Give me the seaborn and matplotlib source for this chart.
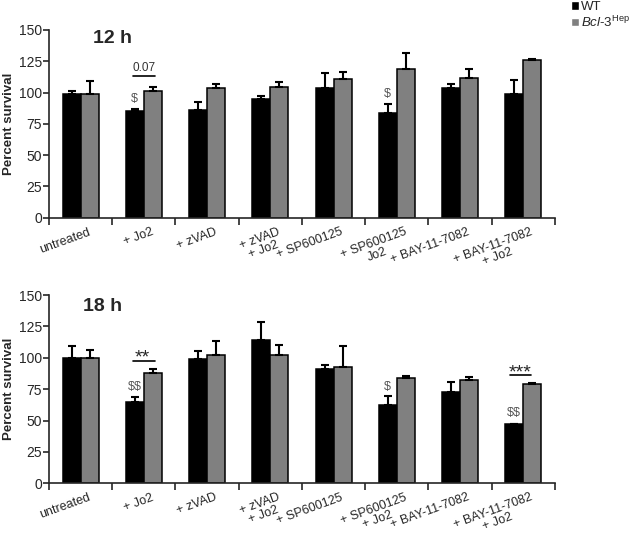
import numpy as np
import pandas as pd
import matplotlib
matplotlib.use("Agg")
import matplotlib.pyplot as plt
import matplotlib.transforms as mtransforms
import seaborn as sns
from matplotlib.patches import Patch

# Percent survival (mean and upper SEM)
labels_12h = ["untreated", "+ Jo2", "+ zVAD", "+ zVAD\n+ Jo2", "+ SP600125",
              "+ SP600125\nJo2", "+ BAY-11-7082", "+ BAY-11-7082\n+ Jo2"]
labels_18h = ["untreated", "+ Jo2", "+ zVAD", "+ zVAD\n+ Jo2", "+ SP600125",
              "+ SP600125\n+ Jo2", "+ BAY-11-7082", "+ BAY-11-7082\n+ Jo2"]
genotypes = ["WT", "Bcl-3"]

wt_12h = [98.9, 85.6, 86.1, 95.2, 104.0, 83.5, 103.5, 98.7]
wt_12h_err = [2.4, 1.4, 6.2, 1.8, 12.0, 7.2, 3.2, 11.3]
ko_12h = [99.0, 101.6, 103.5, 104.3, 110.7, 119.0, 112.0, 126.0]
ko_12h_err = [10.0, 3.2, 3.5, 4.0, 5.8, 12.2, 7.0, 0.6]

wt_18h = [100.0, 65.0, 98.7, 114.0, 91.0, 62.3, 73.0, 47.2]
wt_18h_err = [9.5, 4.0, 6.6, 14.6, 3.0, 6.9, 7.6, 0.4]
ko_18h = [100.0, 87.5, 101.9, 102.4, 92.6, 83.8, 82.5, 79.3]
ko_18h_err = [6.0, 3.5, 11.6, 7.9, 16.7, 1.6, 2.1, 0.7]

sns.set_style("ticks")
plt.rcParams["font.family"] = ["Liberation Sans", "DejaVu Sans"]
plt.rcParams["mathtext.fontset"] = "custom"
plt.rcParams["mathtext.rm"] = "Liberation Sans"
plt.rcParams["mathtext.it"] = "Liberation Sans:italic"

colors = ["#000000", "#808080"]

fig = plt.figure(figsize=(6.3, 5.41), dpi=100)
ax_top = fig.add_axes([0.0778, 0.5976, 0.803, 0.347])
ax_bot = fig.add_axes([0.0778, 0.1067, 0.803, 0.348])


def draw_panel(ax, labels, wt, wt_err, ko, ko_err, title, title_x, title_y):
    df = pd.DataFrame({
        "treatment": labels * 2,
        "genotype": ["WT"] * len(labels) + ["Bcl-3"] * len(labels),
        "survival": wt + ko,
    })
    sns.barplot(data=df, x="treatment", y="survival", hue="genotype",
                order=labels, hue_order=genotypes, palette=colors,
                width=0.57, edgecolor="black", linewidth=1.1,
                errorbar=None, legend=False, ax=ax)
    # one-sided SEM error bars on top of each bar
    for cont, err in zip(ax.containers, [wt_err, ko_err]):
        xs = [p.get_x() + p.get_width() / 2 for p in cont.patches]
        hs = [p.get_height() for p in cont.patches]
        ax.errorbar(xs, hs, yerr=[np.zeros(len(err)), err], fmt="none",
                    ecolor="black", elinewidth=1.5, capsize=3, capthick=1.5,
                    zorder=1)
    ax.set_xlim(-0.5, len(labels) - 0.5)
    ax.set_ylim(0, 150)
    ax.set_yticks(np.arange(0, 151, 25))
    ax.tick_params(axis="y", labelsize=10, length=4, width=1.2, pad=1)
    ax.set_xticks(range(len(labels)))
    ax.set_xticklabels(labels, rotation=20, ha="right", va="top",
                       rotation_mode="anchor", multialignment="center",
                       linespacing=0.95, fontsize=9)
    ax.tick_params(axis="x", which="major", length=0, pad=6)
    ax.set_xticks(np.arange(-0.5, len(labels), 1), minor=True)
    ax.tick_params(axis="x", which="minor", length=5, width=1.2)
    shift = mtransforms.ScaledTranslation(7 / 100, 0, fig.dpi_scale_trans)
    for lab in ax.get_xticklabels():
        lab.set_transform(lab.get_transform() + shift)
    ax.set_xlabel("")
    ax.set_ylabel("Percent survival", fontsize=9.5, fontweight="bold")
    ax.yaxis.set_label_coords(-0.068, 0.5)
    sns.despine(ax=ax)
    for s in ["left", "bottom"]:
        ax.spines[s].set_linewidth(1.2)
    ax.text(title_x, title_y, title, fontsize=14, fontweight="bold",
            ha="left", va="center")


draw_panel(ax_top, labels_12h, wt_12h, wt_12h_err, ko_12h, ko_12h_err,
           "12 h", 0.2, 143.5)
draw_panel(ax_bot, labels_18h, wt_18h, wt_18h_err, ko_18h, ko_18h_err,
           "18 h", 0.04, 141)

# significance marks
grey = "#555555"
ax_top.text(0.857, 95, r"\$", ha="center", va="center", fontsize=9, color=grey)
ax_top.plot([0.83, 1.17], [113.6, 113.6], color="black", lw=1.2)
ax_top.text(1.0, 120, "0.07", ha="center", va="center", fontsize=8.5, color="#333333")
ax_top.text(4.857, 99, r"\$", ha="center", va="center", fontsize=9, color=grey)

ax_bot.text(0.857, 77, r"\$\$", ha="center", va="center", fontsize=9, color=grey)
ax_bot.plot([0.83, 1.17], [97.3, 97.3], color="black", lw=1.2)
ax_bot.text(0.98, 96, "**", ha="center", va="baseline", fontsize=14)
ax_bot.text(4.857, 77, r"\$", ha="center", va="center", fontsize=9, color=grey)
ax_bot.text(6.857, 55.7, r"\$\$", ha="center", va="center", fontsize=9, color=grey)
ax_bot.plot([6.79, 7.12], [86, 86], color="black", lw=1.2)
ax_bot.text(6.95, 84.5, "***", ha="center", va="baseline", fontsize=14)

handles = [Patch(facecolor=colors[0], edgecolor="white"),
           Patch(facecolor=colors[1], edgecolor="white")]
fig.legend(handles, ["WT", r"$\mathit{Bcl}$-$\mathit{3}^{\mathrm{Hep}}$"],
           loc="upper left", bbox_to_anchor=(0.905, 1.0), frameon=False,
           fontsize=9.5, handlelength=0.6, handleheight=0.6, handletextpad=0.15,
           labelspacing=0.1, borderpad=0.1, borderaxespad=0)

fig.savefig("out.png", dpi=100)
